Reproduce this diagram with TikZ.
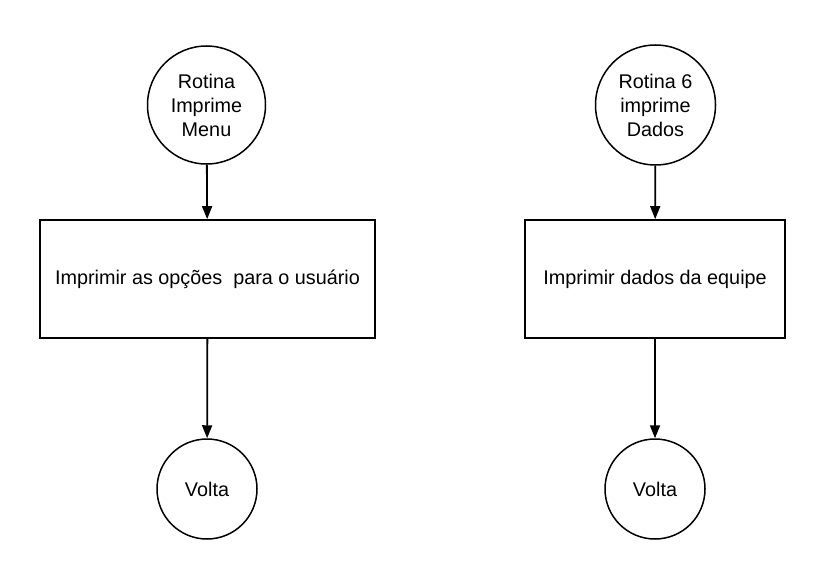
\documentclass[tikz,border=0pt]{standalone}
\usepackage{fontspec}
\setmainfont{Liberation Sans}
\usetikzlibrary{arrows.meta}
\begin{document}
\begin{tikzpicture}[x=1pt,y=-1pt,
  every node/.style={font=\fontsize{19.8}{24}\selectfont, align=center, inner sep=0pt},
  circ/.style={draw, circle, line width=1.5pt, minimum size=#1},
  box/.style={draw, rectangle, line width=1.8pt, minimum width=#1, minimum height=118pt},
  arr/.style={line width=1.8pt, -{Triangle[length=13pt,width=10pt]}}]
\useasboundingbox (0,0) rectangle (826,580);
\node[circ=118pt] (a1) at (206.5,105) {Rotina\\Imprime\\Menu};
\node[box=335pt] (a2) at (207.5,279) {Imprimir as opções\ \ para o usuário};
\node[circ=100pt] (a3) at (207,489) {Volta};
\node[circ=120pt] (b1) at (655.5,105) {Rotina 6\\imprime\\Dados};
\node[box=260pt] (b2) at (655,279) {Imprimir dados da equipe};
\node[circ=100pt] (b3) at (655,489) {Volta};
\draw[arr] (a1) -- (a2);
\draw[arr] (a2) -- (a3);
\draw[arr] (b1) -- (b2);
\draw[arr] (b2) -- (b3);
\end{tikzpicture}
\end{document}
